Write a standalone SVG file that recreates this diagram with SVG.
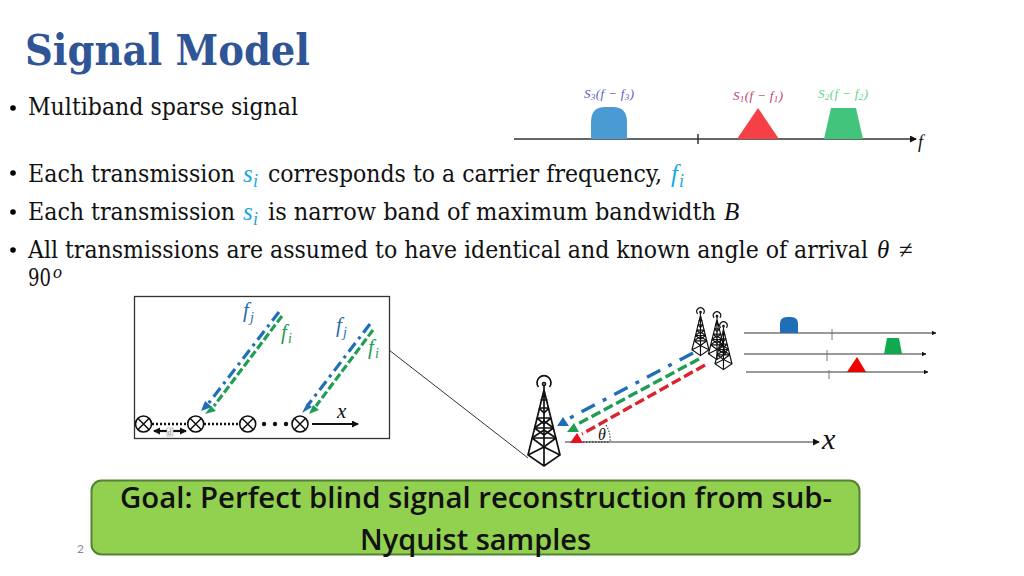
<svg xmlns="http://www.w3.org/2000/svg" width="1024" height="576" viewBox="0 0 1024 576">
<style>
text{font-family:"Liberation Serif","DejaVu Serif",serif;fill:#111}
.b{font-family:"DejaVu Serif Condensed","DejaVu Serif","Liberation Serif",serif;font-size:23.500px;font-stretch:condensed}
.m{font-size:25px;font-style:italic}
.c{fill:#1aa7e0}
.sub{font-size:18px;font-style:italic}
.goal{font-family:"Open Sans",Lato,sans-serif;font-weight:600;font-size:29px;fill:#111;font-variant-ligatures:none}
.axis{stroke:#333;stroke-width:1.500;fill:none}
.axis2{stroke:#777;stroke-width:1.500;fill:none}
.tick{stroke:#777;stroke-width:1;fill:none}
.sensor{fill:#fff;stroke:#111;stroke-width:1.600}
.dot{stroke:#111;stroke-width:2.500;stroke-dasharray:2 2;fill:none}
.blue{stroke:#1f6fb8;fill:none}
.green{stroke:#1f9d55;fill:none}
.red{stroke:#d9232e;fill:none}
.dd{stroke-dasharray:11 5 3 5;stroke-width:3.200}
.da{stroke-dasharray:8 3;stroke-width:3.200}
.dd2{stroke-dasharray:15 9 4 9;stroke-width:3.400}
.da2{stroke-dasharray:10 4;stroke-width:3.400}
.lj{fill:#2a6ca8;font-style:italic;font-size:21px}
.li{fill:#1f9d55;font-style:italic;font-size:21px}
.t{fill:none;stroke:#111}
.sp{font-size:13px;font-style:italic}
.sp .s{font-size:9px}
</style>
<defs>
<marker id="ah2" markerWidth="3" markerHeight="3" refX="2.700" refY="1.500" orient="auto"><path d="M0 0L3 1.500L0 3Z" fill="#111"/></marker>
<marker id="ah3" markerWidth="7" markerHeight="7" refX="6" refY="3.500" orient="auto" markerUnits="userSpaceOnUse"><path d="M0 0L7 3.500L0 7Z" fill="#111"/></marker>
<symbol id="tower" viewBox="0 0 32 88" width="32" height="88" overflow="visible">
<g class="t">
<path d="M16 7V12M16 12L0 77L16 88L32 77L16 12M16 12V88"/>
<path d="M0 77L16 69L32 77M4 60L16 69L28 60M4 60H28M6.500 50L16 57L25.500 50M6.500 50H25.500M9 40L16 46L23 40M9 40H23M11 30L16 35L21 30M11 30H21M12.500 22H19.500"/>
<path d="M4 60L16 52L28 60M6.500 50L16 43L25.500 50"/>
<circle cx="16" cy="6" r="1.500"/>
<path d="M10.500 9A7 7 0 1 1 21.500 9"/>
</g>
</symbol>
<g id="sensor"><circle class="sensor" r="8"/><path d="M-5.700 -5.700L5.700 5.700M-5.700 5.700L5.700 -5.700" stroke="#111" stroke-width="1.500"/></g>
</defs>
<rect width="1024" height="576" fill="#fff"/>

<g id="title"><text x="25" y="65" style="font-family:'DejaVu Serif Condensed','DejaVu Serif',serif;font-stretch:condensed;fill:#2f5597" font-size="42" font-weight="700" textLength="285" lengthAdjust="spacingAndGlyphs">Signal Model</text></g>

<g id="bullets">
<circle cx="13" cy="108" r="2.800"/><text class="b" x="28" y="115" textLength="270" lengthAdjust="spacingAndGlyphs">Multiband sparse signal</text>
<circle cx="13" cy="173" r="2.800"/><text class="b" x="28" y="182" textLength="207" lengthAdjust="spacingAndGlyphs">Each transmission</text>
<text class="m c" x="243" y="182">s</text><text class="sub c" x="253" y="187">i</text>
<text class="b" x="268" y="182" textLength="394" lengthAdjust="spacingAndGlyphs">corresponds to a carrier frequency,</text>
<text class="m c" x="671" y="182">f</text><text class="sub c" x="679" y="187">i</text>
<circle cx="13" cy="212" r="2.800"/><text class="b" x="28" y="220" textLength="207" lengthAdjust="spacingAndGlyphs">Each transmission</text>
<text class="m c" x="243" y="220">s</text><text class="sub c" x="253" y="225">i</text>
<text class="b" x="268" y="220" textLength="448" lengthAdjust="spacingAndGlyphs">is narrow band of maximum bandwidth</text>
<text class="m" x="724" y="220">B</text>
<circle cx="13" cy="250" r="2.800"/><text class="b" x="28" y="258" textLength="840" lengthAdjust="spacingAndGlyphs">All transmissions are assumed to have identical and known angle of arrival</text>
<text class="m" x="877" y="258">θ</text><text x="899" y="258" font-size="25">≠</text>
<text class="b" x="28" y="286" textLength="23" lengthAdjust="spacingAndGlyphs">90</text><text class="sub" x="53" y="278">o</text>
</g>

<g id="spectrum">
<path class="axis" d="M514 139H916" marker-end="url(#ah3)"/>
<path class="axis" d="M698 134V144"/>
<path id="s3" d="M591 139V122Q591 107 605 107H613Q627 107 627 122V139Z" fill="#4a9ad4"/>
<path id="s1" d="M737 139L758 108L779 139Z" fill="#f54045"/>
<path id="s2" d="M824 139L831 108H856L863 139Z" fill="#43c47c"/>
<text class="sp" x="584" y="98" style="fill:#5a5ab8" textLength="50">S<tspan class="s" dy="2">3</tspan><tspan dy="-2">(f − f</tspan><tspan class="s" dy="2">3</tspan><tspan dy="-2">)</tspan></text>
<text class="sp" x="733" y="100" style="fill:#c4405f" textLength="50">S<tspan class="s" dy="2">1</tspan><tspan dy="-2">(f − f</tspan><tspan class="s" dy="2">1</tspan><tspan dy="-2">)</tspan></text>
<text class="sp" x="818" y="98" style="fill:#5fd38a" textLength="50">S<tspan class="s" dy="2">2</tspan><tspan dy="-2">(f − f</tspan><tspan class="s" dy="2">2</tspan><tspan dy="-2">)</tspan></text>
<text x="918" y="148" font-size="18" font-style="italic">f</text>
</g>

<g id="array">
<rect x="134.500" y="296.500" width="255" height="142" fill="#fff" stroke="#333" stroke-width="1.300"/>
<path class="dot" d="M152 424H187M204 424H239"/>
<use href="#sensor" x="143.500" y="424"/><use href="#sensor" x="195.700" y="424"/><use href="#sensor" x="247.700" y="424"/><use href="#sensor" x="300" y="424"/>
<circle cx="264" cy="424" r="2.200" fill="#111"/><circle cx="275" cy="424" r="2.200" fill="#111"/><circle cx="286" cy="424" r="2.200" fill="#111"/>
<path d="M154 431H186" stroke="#111" stroke-width="2.200" fill="none"/>
<path d="M153 431L160 427.500V434.500ZM187 431L180 427.500V434.500Z" fill="#111"/>
<rect x="167" y="428" width="6" height="8" fill="#fff" stroke="#aaa" stroke-width="0.700"/>
<text x="167.500" y="435" font-size="8" style="fill:#777">d</text>
<path d="M312 424H358" stroke="#111" stroke-width="2.200" fill="none" marker-end="url(#ah3)"/>
<text x="337" y="418" font-size="21" font-style="italic">x</text>
<path class="blue dd" d="M279 312L208 404"/>
<path class="green da" d="M282 316L214 406"/>
<path class="blue dd" d="M370 324L308 405"/>
<path class="green da" d="M373 330L316 406"/>
<path d="M201 411L205 401L212 407Z" fill="#1f6fb8"/>
<path d="M205 414L211 406L216 411Z" fill="#1f9d55"/>
<path d="M302 413L307 403L312 407Z" fill="#1f6fb8"/>
<path d="M309 414L313 405L319 410Z" fill="#1f9d55"/>
<text class="lj" x="243" y="317">f</text><text x="250" y="322" font-size="14" style="fill:#2a6ca8" font-style="italic">j</text>
<text class="li" x="281" y="339">f</text><text x="288" y="343" font-size="14" style="fill:#1f9d55" font-style="italic">i</text>
<text class="lj" x="336" y="332">f</text><text x="343" y="337" font-size="14" style="fill:#2a6ca8" font-style="italic">j</text>
<text class="li" x="368" y="354">f</text><text x="375" y="358" font-size="14" style="fill:#1f9d55" font-style="italic">i</text>
</g>

<g id="connectors">
<path d="M389 350L528 458" stroke="#333" stroke-width="1" fill="none"/>
<path d="M565 442H819" stroke="#777" stroke-width="1.300" fill="none" marker-end="url(#ah3)"/>
<path d="M583 442H610" stroke="#444" stroke-width="1.500" stroke-dasharray="1.500 1.500" fill="none"/>
<path d="M606 425Q611 433 610 442" stroke="#444" stroke-width="1.200" stroke-dasharray="1.500 1.500" fill="none"/>
<path class="blue dd2" d="M693 353L568 419"/>
<path class="green da2" d="M699 359L576 425"/>
<path class="red da2" d="M705 365L582 434"/>
<path d="M557 426H569L563 417Z" fill="#1f6fb8"/>
<path d="M567 432H579L574 423Z" fill="#1f9d55"/>
<path d="M570 443H583L577 433Z" fill="#e8101c"/>
</g>
<text x="598" y="440" font-size="16" font-style="italic">θ</text>
<text x="822" y="449" font-size="30" font-style="italic">x</text>

<g id="tower-rx"><use href="#tower" x="528" y="378" stroke-width="1.700"/></g>
<g id="tower-tx">
<use href="#tower" transform="translate(692 309) scale(.53)" stroke-width="2.200"/>
<use href="#tower" transform="translate(708.500 313) scale(.53)" stroke-width="2.200"/>
<use href="#tower" transform="translate(715 323) scale(.53)" stroke-width="2.200"/>
</g>

<g id="received">
<path class="axis2" d="M744 333H936" marker-end="url(#ah2)"/>
<path class="tick" d="M832 329V340"/>
<path d="M780 333V324Q780 317 787 317H791Q798 317 798 324V333Z" fill="#1f6fb8"/>
<path class="axis2" d="M744 354H926" marker-end="url(#ah2)"/>
<path class="tick" d="M827 350V361"/>
<path d="M884 354L887 338H899L902 354Z" fill="#12a84f"/>
<path class="axis2" d="M746 372H928" marker-end="url(#ah2)"/>
<path class="tick" d="M829 370V379"/>
<path d="M847 372L857 357L866 372Z" fill="#ee0000"/>
</g>

<g id="goal">
<rect x="91.500" y="480.500" width="768" height="74" rx="10" fill="#92d050" stroke="#548235" stroke-width="2"/>
<text class="goal" x="120" y="508" textLength="712" lengthAdjust="spacingAndGlyphs">Goal: Perfect blind signal reconstruction from sub-</text>
<text class="goal" x="360" y="550" textLength="231" lengthAdjust="spacingAndGlyphs">Nyquist samples</text>
</g>
<text x="77" y="553" font-size="12" style="font-family:Lato,sans-serif;fill:#8a8a8a">2</text>
</svg>
